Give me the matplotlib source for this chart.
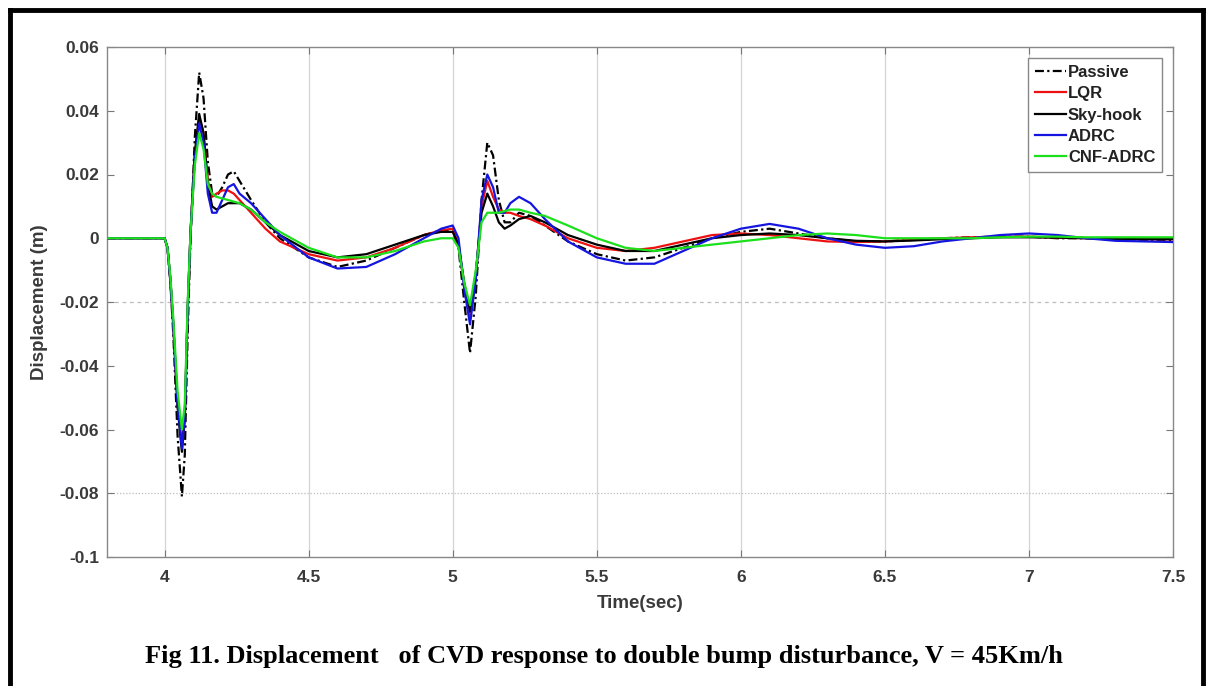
import matplotlib
matplotlib.use("Agg")
import matplotlib.pyplot as plt
from matplotlib.lines import Line2D

plt.rcParams["font.family"] = ["Liberation Sans", "DejaVu Sans"]

# ---------------- data ----------------
time = [3.8, 4.0, 4.01, 4.02, 4.03, 4.045, 4.06, 4.07, 4.08, 4.09,
        4.105, 4.12, 4.135, 4.15, 4.165, 4.18, 4.2, 4.22, 4.24, 4.26,
        4.3, 4.35, 4.4, 4.5, 4.6, 4.7, 4.8, 4.9, 4.96, 5.0,
        5.02, 5.04, 5.06, 5.08, 5.1, 5.12, 5.14, 5.16, 5.18, 5.2,
        5.23, 5.27, 5.32, 5.4, 5.5, 5.6, 5.7, 5.8, 5.9, 6.0,
        6.1, 6.2, 6.3, 6.4, 6.5, 6.6, 6.7, 6.8, 6.9, 7.0,
        7.1, 7.2, 7.3, 7.4, 7.5]

passive = [0, 0, -0.003, -0.014, -0.030, -0.062, -0.081, -0.068, -0.030, 0.000,
           0.032, 0.052, 0.044, 0.024, 0.014, 0.013, 0.016, 0.020, 0.021, 0.018,
           0.012, 0.005, 0.000, -0.006, -0.009, -0.007, -0.003, 0.001, 0.0025, 0.002,
           -0.003, -0.020, -0.036, -0.018, 0.012, 0.030, 0.026, 0.012, 0.005, 0.005,
           0.008, 0.007, 0.004, -0.001, -0.005, -0.007, -0.006, -0.003, 0.000, 0.002,
           0.003, 0.0015, 0.000, -0.001, -0.001, -0.0005, 0.000, 0.0003, 0.0005, 0.0005,
           0.000, 0.000, -0.0003, -0.0005, -0.0005]

lqr = [0, 0, -0.003, -0.013, -0.027, -0.052, -0.065, -0.055, -0.022, 0.002,
       0.026, 0.038, 0.033, 0.018, 0.013, 0.014, 0.015, 0.015, 0.014, 0.012,
       0.008, 0.003, -0.001, -0.005, -0.007, -0.006, -0.003, 0.001, 0.0025, 0.003,
       -0.002, -0.015, -0.025, -0.012, 0.010, 0.018, 0.013, 0.009, 0.008, 0.008,
       0.007, 0.006, 0.004, 0.000, -0.003, -0.004, -0.003, -0.001, 0.001, 0.0015,
       0.001, 0.000, -0.001, -0.0012, -0.001, -0.0005, 0.000, 0.0003, 0.0005, 0.0005,
       0.0002, 0.000, -0.0002, -0.0003, -0.0003]

skyhook = [0, 0, -0.003, -0.013, -0.027, -0.053, -0.067, -0.057, -0.023, 0.002,
           0.027, 0.039, 0.033, 0.017, 0.010, 0.009, 0.010, 0.011, 0.011, 0.011,
           0.009, 0.005, 0.001, -0.004, -0.006, -0.005, -0.002, 0.001, 0.002, 0.002,
           -0.002, -0.014, -0.023, -0.011, 0.008, 0.014, 0.010, 0.005, 0.003, 0.004,
           0.006, 0.007, 0.005, 0.001, -0.002, -0.004, -0.004, -0.002, 0.000, 0.001,
           0.0015, 0.001, 0.000, -0.0008, -0.001, -0.0007, -0.0003, 0.000, 0.0003, 0.0003,
           0.0002, 0.000, -0.0002, -0.0003, -0.0003]

adrc = [0, 0, -0.003, -0.013, -0.027, -0.052, -0.066, -0.056, -0.022, 0.002,
        0.025, 0.036, 0.030, 0.014, 0.008, 0.008, 0.012, 0.016, 0.017, 0.014,
        0.011, 0.006, 0.001, -0.006, -0.0095, -0.009, -0.005, 0.000, 0.003, 0.004,
        0.000, -0.016, -0.027, -0.013, 0.012, 0.020, 0.016, 0.008, 0.008, 0.011,
        0.013, 0.011, 0.006, -0.001, -0.006, -0.008, -0.008, -0.004, 0.000, 0.003,
        0.0045, 0.003, 0.000, -0.002, -0.003, -0.0025, -0.001, 0.000, 0.001, 0.0015,
        0.001, 0.000, -0.0008, -0.001, -0.0012]

cnf_adrc = [0, 0, -0.003, -0.012, -0.025, -0.048, -0.060, -0.052, -0.020, 0.002,
            0.023, 0.033, 0.028, 0.017, 0.014, 0.013, 0.0125, 0.012, 0.0115, 0.011,
            0.009, 0.005, 0.002, -0.003, -0.006, -0.006, -0.004, -0.001, 0.000, 0.000,
            -0.003, -0.014, -0.021, -0.010, 0.005, 0.008, 0.008, 0.008, 0.0085, 0.009,
            0.009, 0.008, 0.007, 0.004, 0.000, -0.003, -0.004, -0.003, -0.002, -0.001,
            0.000, 0.001, 0.0015, 0.001, 0.000, 0.000, 0.000, 0.000, 0.0003, 0.0005,
            0.0005, 0.0003, 0.0003, 0.0003, 0.0003]

x_ticks = [4, 4.5, 5, 5.5, 6, 6.5, 7, 7.5]
x_tick_labels = ["4", "4.5", "5", "5.5", "6", "6.5", "7", "7.5"]
y_ticks = [-0.1, -0.08, -0.06, -0.04, -0.02, 0, 0.02, 0.04, 0.06]
y_tick_labels = ["-0.1", "-0.08", "-0.06", "-0.04", "-0.02", "0", "0.02", "0.04", "0.06"]

# ---------------- figure ----------------
W, H = 1207, 686
fig = plt.figure(figsize=(W / 100, H / 100), dpi=100)
fig.patch.set_facecolor("white")

L, R, T, B = 107, 1173, 47, 557
ax = fig.add_axes([L / W, 1 - B / H, (R - L) / W, (B - T) / H])

# grid (vertical solid, only two faint horizontal lines visible)
for xv in x_ticks[:-1]:
    ax.axvline(xv, color="#d4d4d4", lw=0.9, zorder=0)
ax.axhline(-0.02, color="#bdbdbd", lw=0.9, ls=(0, (3, 3)), zorder=0)
ax.axhline(-0.08, color="#bdbdbd", lw=0.9, ls=(0, (1, 1.5)), zorder=0)

ax.plot(time, passive, color="black", lw=1.6, ls=(0, (4, 1.5, 1, 1.5)), label="Passive", zorder=2)
ax.plot(time, lqr, color="#ee1111", lw=1.6, label="LQR", zorder=3)
ax.plot(time, skyhook, color="black", lw=1.6, label="Sky-hook", zorder=3)
ax.plot(time, adrc, color="#1515e0", lw=1.6, label="ADRC", zorder=4)
ax.plot(time, cnf_adrc, color="#1be01b", lw=1.6, label="CNF-ADRC", zorder=5)

ax.set_xlim(3.8, 7.5)
ax.set_ylim(-0.1, 0.06)
ax.set_xticks(x_ticks)
ax.set_xticklabels(x_tick_labels)
ax.set_yticks(y_ticks)
ax.set_yticklabels(y_tick_labels)
ax.tick_params(direction="in", length=5, width=0.8, color="#777777",
               top=True, right=True, labelsize=12.5, labelcolor="#3a3a3a")
ax.tick_params(axis="x", pad=9)
ax.tick_params(axis="y", pad=5.5)
for lab in ax.get_xticklabels() + ax.get_yticklabels():
    lab.set_fontweight("bold")
for sp in ax.spines.values():
    sp.set_color("#888888")
    sp.set_linewidth(1.0)

ax.set_xlabel("Time(sec)", fontsize=13.5, fontweight="bold", color="#3a3a3a")
ax.set_ylabel("Displacement (m)", fontsize=13.5, fontweight="bold", color="#3a3a3a")
ax.xaxis.set_label_coords(0.5, (557 - 595) / 510)
ax.yaxis.set_label_coords((48 - 107) / 1066, 0.5)

leg = ax.legend(loc="upper right", bbox_to_anchor=(0.9897, 0.978), borderaxespad=0,
                prop={"weight": "bold", "size": 12}, handlelength=1.9,
                handletextpad=0.1, labelspacing=0.38, borderpad=0.4,
                fancybox=False, framealpha=1, edgecolor="#888888")
leg.get_frame().set_linewidth(1.0)
for txt in leg.get_texts():
    txt.set_color("#222222")

# caption
fig.text(0.5, 1 - 656 / H,
         "Fig 11. Displacement   of CVD response to double bump disturbance, V = 45Km/h",
         ha="center", va="center", fontsize=19, fontweight="bold",
         family="Liberation Serif", color="black")

# outer border
bw = 3.5
fig.add_artist(Line2D([10 / W, 10 / W], [0, 1 - 10 / H], transform=fig.transFigure,
                      color="black", lw=bw))
fig.add_artist(Line2D([10 / W, 1 - 4 / W], [1 - 10 / H, 1 - 10 / H], transform=fig.transFigure,
                      color="black", lw=bw))
fig.add_artist(Line2D([1 - 4 / W, 1 - 4 / W], [0, 1 - 10 / H], transform=fig.transFigure,
                      color="black", lw=bw))

fig.savefig("out.png", dpi=100, facecolor="white")
